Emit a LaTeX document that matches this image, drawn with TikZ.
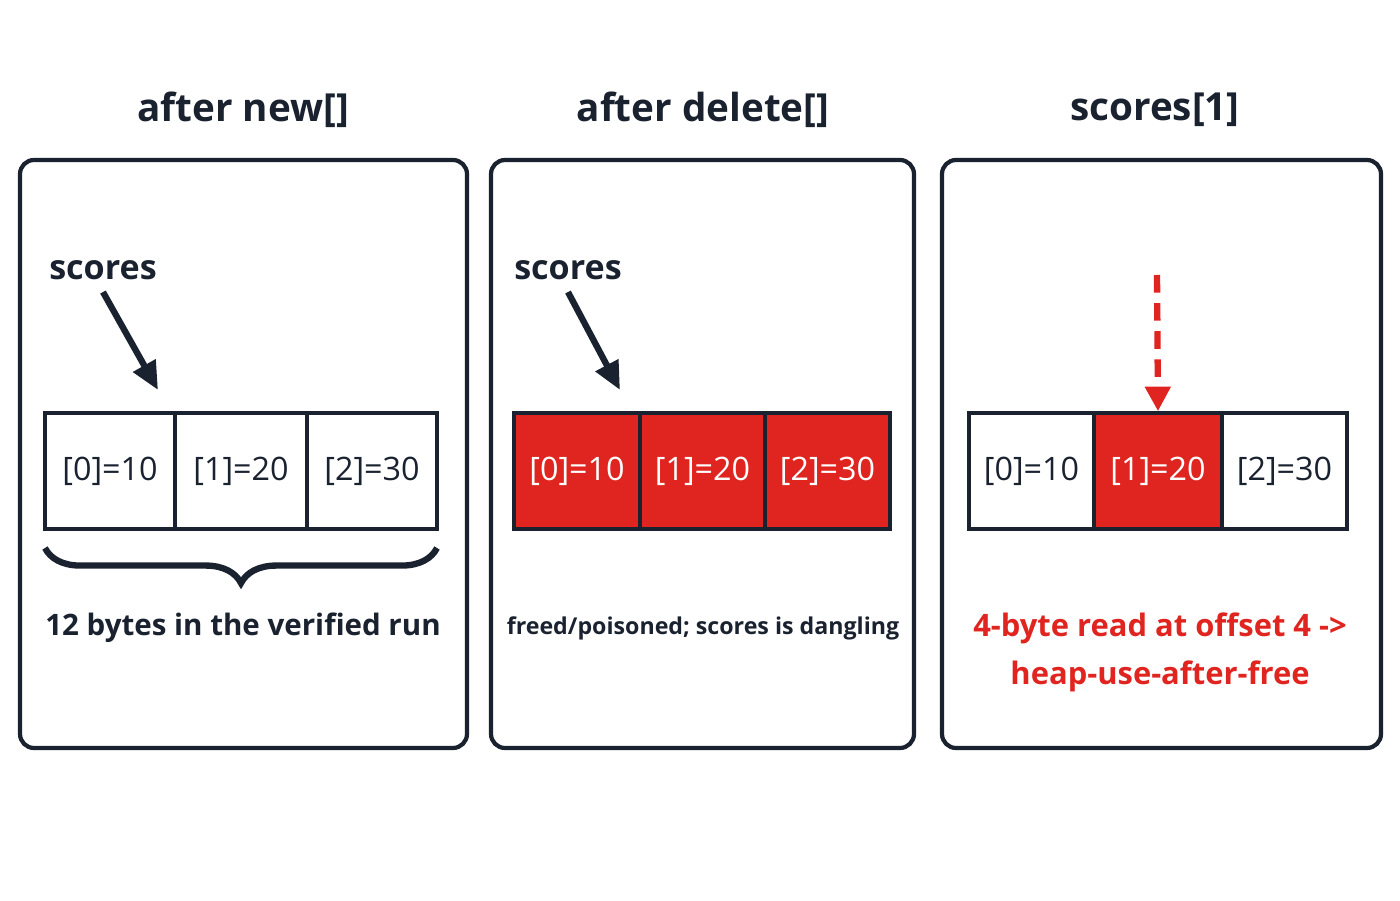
\documentclass[tikz,border=0pt]{standalone}
\usepackage{fontspec}
\setmainfont{Open Sans}
\usetikzlibrary{positioning,decorations.pathreplacing,arrows.meta}
\definecolor{memred}{HTML}{E0241F}
\definecolor{ink}{HTML}{1A2230}
\tikzset{
  panel/.style={draw=ink,line width=1.2pt,rounded corners=4pt},
  title/.style={font=\fontsize{11}{13}\selectfont\bfseries,text=ink},
  cell/.style={draw=ink,line width=1pt,minimum height=1.16cm,inner sep=0pt,font=\fontsize{9.2}{11}\selectfont,text=ink},
  hot/.style={cell,fill=memred,text=white},
  lbl/.style={font=\fontsize{9.7}{12}\selectfont\bfseries,text=ink},
  ptr/.style={-{Triangle[length=8pt,width=7pt]},line width=1.8pt,draw=ink},
  note/.style={font=\fontsize{6.6}{8}\selectfont\bfseries,text=ink}
}
\begin{document}
\begin{tikzpicture}
\useasboundingbox (0,0) rectangle (14,9);
% panels
\draw[panel] (0.20,1.52) rectangle (4.67,7.40);
\draw[panel] (4.91,1.52) rectangle (9.14,7.40);
\draw[panel] (9.42,1.52) rectangle (13.81,7.40);
\node[title] (t1) at (2.43,7.90) {after new[]};
\node[title] (t2) at (7.03,7.90) {after delete[]};
\node[title] (t3) at (11.55,7.90) {scores[1]};
% panel 1
\node[cell,minimum width=1.30cm] (a0) at (1.10,4.29) {[0]=10};
\node[cell,minimum width=1.32cm,right=-1pt of a0] (a1) {[1]=20};
\node[cell,minimum width=1.30cm,right=-1pt of a1] (a2) {[2]=30};
\node[lbl] (s1) at (1.03,6.30) {scores};
\coordinate (p1) at (1.58,5.10);
\draw[ptr] (s1.south) -- (p1);
\draw[line width=1.8pt,draw=ink,decorate,decoration={brace,mirror,amplitude=10pt}] (0.45,3.52) -- (4.37,3.52);
\node[note,font=\fontsize{8.4}{10}\selectfont\bfseries] (n1) at (2.43,2.72) {12 bytes in the verified run};
% panel 2
\node[hot,minimum width=1.26cm] (b0) at (5.77,4.29) {[0]=10};
\node[hot,minimum width=1.25cm,right=-1pt of b0] (b1) {[1]=20};
\node[hot,minimum width=1.25cm,right=-1pt of b1] (b2) {[2]=30};
\node[lbl] (s2) at (5.68,6.30) {scores};
\coordinate (p2) at (6.20,5.10);
\draw[ptr] (s2.south) -- (p2);
\node[note] (n2) at (7.03,2.72) {freed/poisoned; scores is dangling};
% panel 3
\node[cell,minimum width=1.25cm] (c0) at (10.315,4.29) {[0]=10};
\node[hot,minimum width=1.28cm,right=-1pt of c0] (c1) {[1]=20};
\node[cell,minimum width=1.25cm,right=-1pt of c1] (c2) {[2]=30};
\coordinate (r3) at (11.57,6.25);
\draw[-{Triangle[length=7pt,width=7pt]},line width=1.8pt,draw=memred,dash pattern=on 5pt off 3pt] (r3) -- (c1.north);
\node[font=\fontsize{8.8}{13.6}\selectfont\bfseries,text=memred,align=center] (n3) at (11.60,2.48) {4-byte read at offset 4 ->\\heap-use-after-free};
\end{tikzpicture}
\end{document}
